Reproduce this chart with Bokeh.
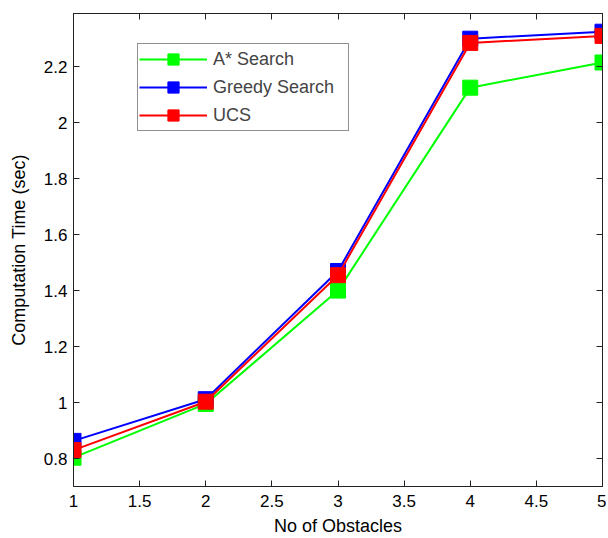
from bokeh.plotting import figure
from bokeh.models import LinearAxis, Range1d, FixedTicker, Legend, LegendItem
from bokeh.embed import file_html
from bokeh.resources import INLINE

obstacles = [1, 2, 3, 4, 5]
astar = [0.803, 0.995, 1.40, 2.125, 2.215]
greedy = [0.863, 1.012, 1.47, 2.30, 2.325]
ucs = [0.83, 1.003, 1.455, 2.285, 2.31]
xticks = [1, 1.5, 2, 2.5, 3, 3.5, 4, 4.5, 5]
yticks = [0.8, 1.0, 1.2, 1.4, 1.6, 1.8, 2.0, 2.2]

FONT = "Liberation Sans"

p = figure(width=606, height=538, output_backend="svg", toolbar_location=None,
           x_range=Range1d(1, 5), y_range=Range1d(0.70, 2.39),
           min_border_left=73, min_border_right=4, min_border_top=13, min_border_bottom=50)
p.outline_line_color = "#222222"
p.outline_line_width = 1
p.grid.visible = False

for ax in [p.xaxis[0], p.yaxis[0]]:
    ax.major_tick_in = 6
    ax.major_tick_out = 0
    ax.minor_tick_line_color = None
    ax.axis_line_color = "#222222"
    ax.major_tick_line_color = "#222222"
    ax.major_label_text_font = FONT
    ax.major_label_text_font_size = "17px"
    ax.major_label_text_color = "black"
    ax.axis_label_text_font = FONT
    ax.axis_label_text_font_size = "18px"
    ax.axis_label_text_font_style = "normal"
    ax.axis_label_text_color = "black"

p.xaxis[0].ticker = FixedTicker(ticks=xticks)
p.yaxis[0].ticker = FixedTicker(ticks=yticks)
p.xaxis[0].major_label_overrides = {1: "1", 2: "2", 3: "3", 4: "4", 5: "5"}
p.yaxis[0].major_label_overrides = {1.0: "1", 2.0: "2"}
p.xaxis[0].axis_label = "No of Obstacles"
p.yaxis[0].axis_label = "Computation Time (sec)"
p.xaxis[0].axis_label_standoff = 6
p.yaxis[0].axis_label_standoff = 12
p.xaxis[0].major_label_standoff = 8
p.yaxis[0].major_label_standoff = 6

top = LinearAxis(ticker=FixedTicker(ticks=xticks),
                 major_label_overrides={t: "" for t in xticks},
                 major_label_standoff=0, axis_line_color="#222222",
                 major_tick_line_color="#222222",
                 major_tick_in=6, major_tick_out=0, minor_tick_line_color=None)
right = LinearAxis(ticker=FixedTicker(ticks=yticks),
                   major_label_overrides={t: "" for t in yticks},
                   major_label_standoff=0, axis_line_color="#222222",
                   major_tick_line_color="#222222",
                   major_tick_in=6, major_tick_out=0, minor_tick_line_color=None)
p.add_layout(top, "above")
p.add_layout(right, "right")

series = [("A* Search", astar, "#00ff00"), ("Greedy Search", greedy, "#0000ff"), ("UCS", ucs, "#ff0000")]
items = []
for name, ys, col in series:
    l = p.line(obstacles, ys, line_color=col, line_width=2)
    s = p.scatter(obstacles, ys, marker="square", size=15, fill_color=col, line_color=col)
    items.append(LegendItem(label=name, renderers=[l, s]))

legend = Legend(items=items, location=(64, 355))
legend.margin = 0
legend.border_line_color = "#222222"
legend.border_line_width = 1
legend.label_text_font = FONT
legend.label_text_font_size = "18px"
legend.glyph_width = 68
legend.glyph_height = 28
legend.spacing = 0
legend.padding = 1
legend.label_standoff = 6
legend.label_height = 26
legend.label_width = 134
p.add_layout(legend)

open("out.html", "w").write(file_html(p, INLINE))
